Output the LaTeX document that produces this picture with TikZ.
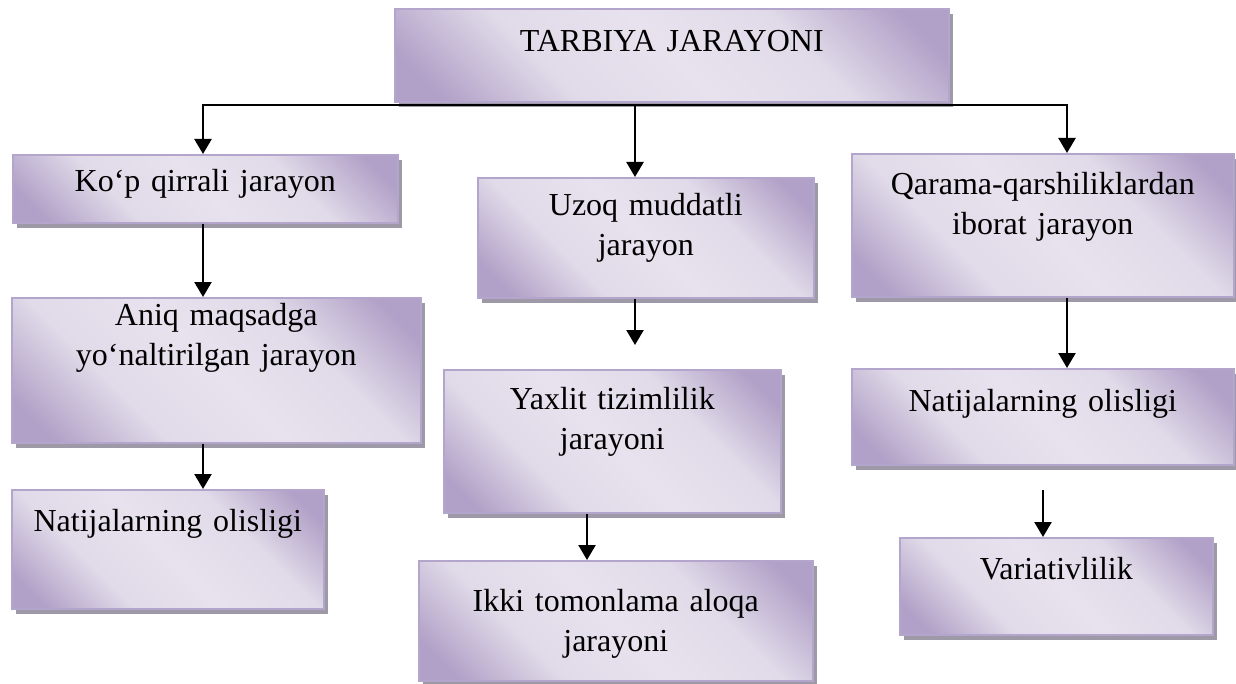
\documentclass[tikz,border=0pt]{standalone}
\usepackage{fontspec}
\setmainfont{Liberation Serif}
\usetikzlibrary{arrows.meta,shadows}
\definecolor{pdark}{RGB}{177,160,199}
\definecolor{plight}{RGB}{225,219,233}
\definecolor{plight2}{RGB}{231,226,238}
\definecolor{pborder}{RGB}{180,165,204}
\definecolor{shadowgray}{RGB}{158,153,166}
\pgfdeclareverticalshading{lavgrad}{100bp}{color(0bp)=(pdark); color(20bp)=(pdark); color(35bp)=(plight); color(50bp)=(plight2); color(65bp)=(plight); color(80bp)=(pdark); color(100bp)=(pdark)}
\begin{document}
\begin{tikzpicture}[x=0.5pt,y=-0.5pt,
  pbox/.style={draw=pborder, line width=0.8pt, shade, shading=lavgrad, shading angle=-45,
    anchor=north west, inner sep=0pt, align=center,
    font=\fontsize{16}{20}\selectfont,
    general shadow={fill=shadowgray, shadow xshift=2pt, shadow yshift=-2.5pt}},
  conn/.style={line width=1.2pt, -{Triangle[width=8.5pt,length=7.5pt]}},
  ]
\fill[white] (0,0) rectangle (1236,684);
\useasboundingbox (0,0) rectangle (1236,684);

\node[pbox, text width=277pt, text height=21.5pt, text depth=25pt] (top) at (394,8) {TARBIYA JARAYONI};

\node[pbox, text width=192.5pt, text height=18.5pt, text depth=15.5pt] (k1) at (12,154) {Ko‘p qirrali jarayon};
\node[pbox, text width=204.5pt, text height=14pt, text depth=58.5pt] (k2) at (11,297) {Aniq maqsadga\\yo‘naltirilgan jarayon};
\node[pbox, text width=156pt, text height=21pt, text depth=38.5pt] (k3) at (11,489) {Natijalarning olisligi};

\node[pbox, text width=168pt, text height=19pt, text depth=41pt] (m1) at (477,177) {Uzoq muddatli\\jarayon};
\node[pbox, text width=168.5pt, text height=20pt, text depth=51.5pt] (m2) at (443,369) {Yaxlit tizimlilik\\jarayoni};
\node[pbox, text width=197pt, text height=25.5pt, text depth=34.5pt] (m3) at (418,560) {Ikki tomonlama aloqa\\jarayoni};

\node[pbox, text width=191pt, text height=20.5pt, text depth=51pt] (r1) at (851,153) {Qarama-qarshiliklardan\\iborat jarayon};
\node[pbox, text width=191pt, text height=21.5pt, text depth=26.5pt] (r2) at (851,368) {Natijalarning olisligi};
\node[pbox, text width=156.5pt, text height=21pt, text depth=27.5pt] (r3) at (899,537) {Variativlilik};

\coordinate (hl) at (203,105);
\coordinate (hm) at (635,105);
\coordinate (hr) at (1067,105);
\coordinate (m12) at (635,345);
\coordinate (m23) at (587,514);
\coordinate (r23) at (1043,490);

\draw[conn] (hm) -- (hl) -- (hl |- k1.north);
\draw[conn] (hm) -- (hr) -- (hr |- r1.north);
\draw[conn] (hm) -- (hm |- m1.north);

\draw[conn] (k1.south -| hl) -- (hl |- k2.north);
\draw[conn] (k2.south -| hl) -- (hl |- k3.north);

\draw[conn] (m1.south -| hm) -- (m12);
\draw[conn] (m2.south -| m23) -- (m23 |- m3.north);

\draw[conn] (r1.south -| hr) -- (hr |- r2.north);
\draw[conn] (r23) -- (r23 |- r3.north);
\end{tikzpicture}
\end{document}
